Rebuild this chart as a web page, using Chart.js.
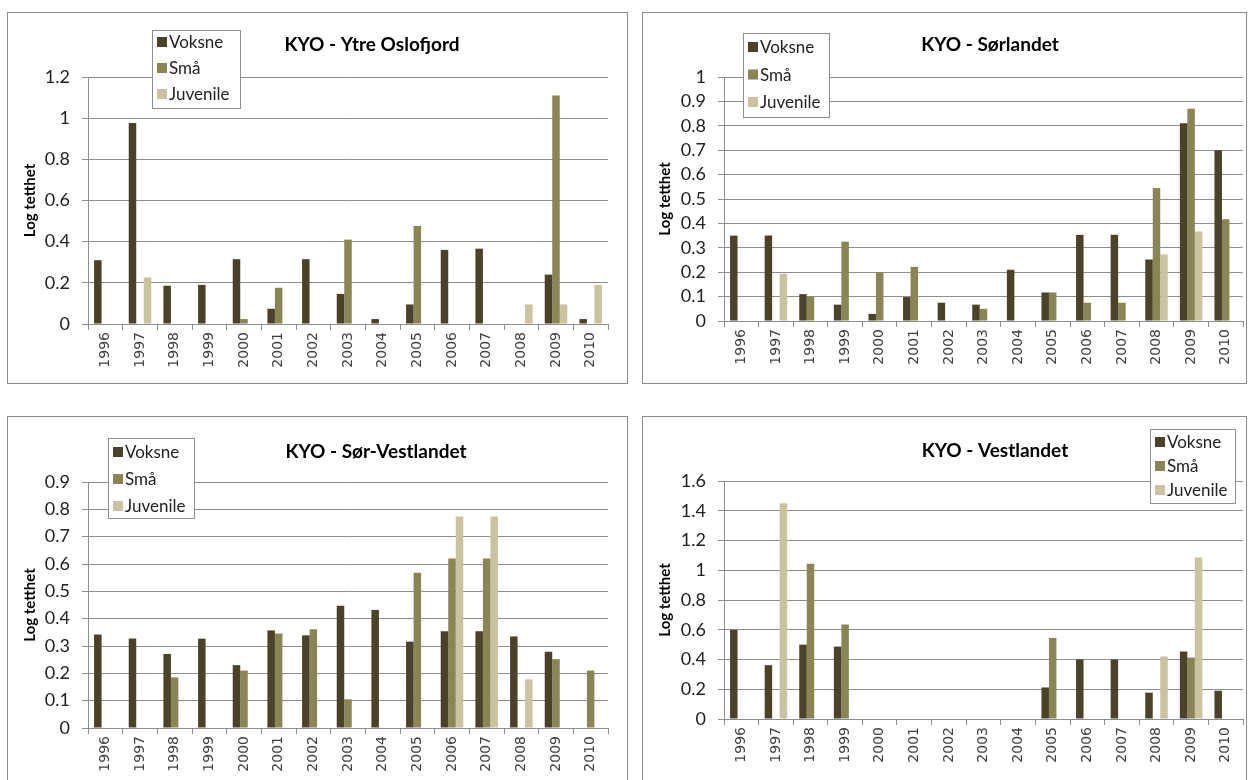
<!DOCTYPE html>
<html>
<head>
<meta charset="utf-8">
<script src="https://cdn.jsdelivr.net/npm/chart.js@4.4.1/dist/chart.umd.min.js"></script>
<style>
  html, body { margin: 0; padding: 0; background: #fff; overflow: hidden; }
  .panel { position: absolute; border: 1px solid #8a8a8a; box-sizing: border-box; background: #fff; }
  .panel canvas { position: absolute; left: 0; top: 0; }
</style>
</head>
<body>
<div class="panel" style="left:7px;top:12px;width:621px;height:372px"><canvas id="c1" width="619" height="370"></canvas></div>
<div class="panel" style="left:642px;top:12px;width:605px;height:372px"><canvas id="c2" width="603" height="370"></canvas></div>
<div class="panel" style="left:7px;top:416px;width:621px;height:372px"><canvas id="c3" width="619" height="370"></canvas></div>
<div class="panel" style="left:642px;top:416px;width:605px;height:372px"><canvas id="c4" width="603" height="370"></canvas></div>
<script>
Chart.defaults.font.family = "Lato, 'Liberation Sans', sans-serif";
Chart.defaults.color = "#222";

// data
const years = ["1996", "1997", "1998", "1999", "2000", "2001", "2002", "2003", "2004", "2005", "2006", "2007", "2008", "2009", "2010"];
const seriesNames = ["Voksne", "Små", "Juvenile"];

const ytreVoksne = [0.31, 0.977, 0.186, 0.19, 0.315, 0.074, 0.315, 0.146, 0.024, 0.095, 0.36, 0.366, 0, 0.24, 0.024];
const ytreSma = [0, 0, 0, 0, 0.024, 0.176, 0, 0.41, 0, 0.476, 0, 0, 0, 1.11, 0];
const ytreJuv = [0, 0.226, 0, 0, 0, 0, 0, 0, 0, 0, 0, 0, 0.095, 0.095, 0.19];

const sorVoksne = [0.35, 0.35, 0.11, 0.067, 0.029, 0.098, 0.075, 0.067, 0.21, 0.117, 0.353, 0.353, 0.252, 0.81, 0.70];
const sorSma = [0, 0, 0.10, 0.325, 0.2, 0.222, 0, 0.05, 0, 0.117, 0.075, 0.075, 0.545, 0.87, 0.417];
const sorJuv = [0, 0.194, 0, 0, 0, 0, 0, 0, 0, 0, 0, 0, 0.273, 0.367, 0];

const svVoksne = [0.342, 0.327, 0.271, 0.327, 0.23, 0.357, 0.339, 0.447, 0.432, 0.316, 0.354, 0.354, 0.335, 0.279, 0];
const svSma = [0, 0, 0.185, 0, 0.21, 0.346, 0.361, 0.105, 0, 0.568, 0.62, 0.62, 0, 0.252, 0.21];
const svJuv = [0, 0, 0, 0, 0, 0, 0, 0, 0, 0, 0.774, 0.774, 0.178, 0, 0];

const vestVoksne = [0.599, 0.362, 0.50, 0.487, 0, 0, 0, 0, 0, 0.212, 0.40, 0.40, 0.177, 0.454, 0.19];
const vestSma = [0, 0, 1.044, 0.635, 0, 0, 0, 0, 0, 0.545, 0, 0, 0, 0.413, 0];
const vestJuv = [0, 1.45, 0, 0, 0, 0, 0, 0, 0, 0, 0, 0, 0.42, 1.086, 0];

const yMaxes = [1.2, 1, 0.9, 1.6];
const ySteps = [0.2, 0.1, 0.1, 0.2];

const colors = ["#4a4329", "#8b8454", "#cbc3a0"];
const gridColor = "#8e8e8e";

// title + boxed legend drawn inside the panel like the Excel original
const panelDecor = {
	id: "panelDecor",
	afterDraw(chart, args, opts) {
		const ctx = chart.ctx;
		ctx.save();
		ctx.fillStyle = "#000";
		ctx.font = "bold 19px Lato, sans-serif";
		ctx.textAlign = "center";
		ctx.textBaseline = "middle";
		ctx.fillText(opts.title, opts.tx, opts.ty);

		ctx.fillStyle = "#fff";
		ctx.fillRect(opts.lx, opts.ly, opts.lw, opts.lh);
		ctx.strokeStyle = gridColor;
		ctx.lineWidth = 1;
		ctx.strokeRect(opts.lx + 0.5, opts.ly + 0.5, opts.lw, opts.lh);
		ctx.font = "17px Lato, sans-serif";
		ctx.textAlign = "left";
		chart.data.datasets.forEach((ds, i) => {
			const cy = opts.ly + opts.row0 + i * opts.rowH;
			ctx.fillStyle = ds.backgroundColor;
			ctx.fillRect(opts.lx + 5, cy - 5, 10, 10);
			ctx.fillStyle = "#222";
			ctx.fillText(ds.label, opts.lx + 17, cy + 1);
		});
		ctx.restore();
	},
};

function makeChart(id, idx, title, series, box) {
	const [vals1, vals2, vals3] = series;
	const canvas = document.getElementById(id);
	const xH = 48;
	new Chart(canvas.getContext("2d"), {
		type: "bar",
		data: {
			labels: years,
			datasets: [vals1, vals2, vals3].map((v, i) => ({
				label: seriesNames[i],
				data: v,
				backgroundColor: colors[i],
				borderWidth: 0,
				categoryPercentage: 0.65,
				barPercentage: 1.0,
			})),
		},
		plugins: [panelDecor],
		options: {
			responsive: false,
			animation: false,
			devicePixelRatio: 1,
			layout: {
				padding: {
					left: 0,
					top: box.top,
					right: canvas.width - box.right,
					bottom: canvas.height - box.bottom - xH,
				},
			},
			plugins: {
				legend: { display: false },
				title: { display: false },
				tooltip: { enabled: false },
				panelDecor: Object.assign({ title: title }, box.decor),
			},
			scales: {
				x: {
					afterFit: (s) => { s.height = xH; },
					grid: {
						offset: true,
						drawOnChartArea: false,
						drawTicks: true,
						tickLength: 6,
						color: gridColor,
					},
					border: { color: gridColor },
					ticks: {
						autoSkip: false,
						minRotation: 90,
						maxRotation: 90,
						padding: 2,
						color: "#404040",
						font: { family: "'DejaVu Sans', sans-serif", size: 14 },
					},
				},
				y: {
					min: 0,
					max: yMaxes[idx],
					afterFit: (s) => { s.width = box.left; },
					grid: {
						color: gridColor,
						drawTicks: true,
						tickLength: 6,
					},
					border: { color: gridColor },
					ticks: {
						autoSkip: false,
						stepSize: ySteps[idx],
						padding: 12,
						color: "#222",
						font: { size: 18 },
						callback: (v) => String(Number(v.toFixed(2))),
					},
					title: {
						display: true,
						text: "Log tetthet",
						color: "#000",
						font: { size: 15, weight: "bold" },
						padding: { top: box.ytPad, bottom: 0 },
					},
				},
			},
		},
	});
}

makeChart("c1", 0, "KYO - Ytre Oslofjord", [ytreVoksne, ytreSma, ytreJuv], {
	left: 80, right: 600, top: 64, bottom: 311, ytPad: 13,
	decor: { tx: 364, ty: 32, lx: 144, ly: 17, lw: 88, lh: 78, row0: 12, rowH: 26 },
});
makeChart("c2", 1, "KYO - Sørlandet", [sorVoksne, sorSma, sorJuv], {
	left: 81, right: 600, top: 64, bottom: 308, ytPad: 13,
	decor: { tx: 347, ty: 32, lx: 100, ly: 20, lw: 86, lh: 84, row0: 14, rowH: 27.5 },
});
makeChart("c3", 2, "KYO - Sør-Vestlandet", [svVoksne, svSma, svJuv], {
	left: 80, right: 600, top: 65, bottom: 311, ytPad: 13,
	decor: { tx: 368, ty: 35, lx: 100, ly: 21, lw: 86, lh: 80, row0: 14, rowH: 27 },
});
makeChart("c4", 3, "KYO - Vestlandet", [vestVoksne, vestSma, vestJuv], {
	left: 81, right: 600, top: 64, bottom: 302, ytPad: 13,
	decor: { tx: 352, ty: 34, lx: 507, ly: 12, lw: 85, lh: 74, row0: 13, rowH: 24 },
});
</script>
</body>
</html>
